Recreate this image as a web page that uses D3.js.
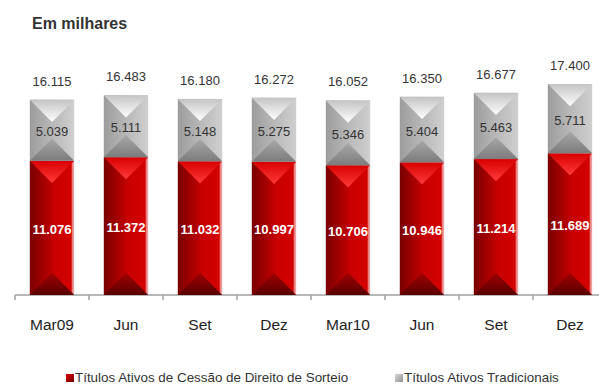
<!DOCTYPE html>
<html><head><meta charset="utf-8">
<script src="https://cdn.jsdelivr.net/npm/d3@7"></script>
<style>
body{margin:0;background:#fff;}
svg{display:block;font-family:"Liberation Sans",Arial,sans-serif;}
</style></head>
<body><svg id="c" width="599" height="385"></svg>
<script>
const categories = ["Mar09","Jun","Set","Dez","Mar10","Jun","Set","Dez"];
const cessao = [11076,11372,11032,10997,10706,10946,11214,11689];
const tradicionais = [5039,5111,5148,5275,5346,5404,5463,5711];
const totals = [16115,16483,16180,16272,16052,16350,16677,17400];
const seriesNames = ["Títulos Ativos de Cessão de Direito de Sorteio","Títulos Ativos Tradicionais"];

const fmt = v => d3.format(",")(v).replace(/,/g,".");
const svg = d3.select("#c");
const x = d3.scaleBand().domain(d3.range(categories.length)).range([15, 607]).paddingInner(0.4).paddingOuter(0.2);
const y = d3.scaleLinear().domain([0, 20000]).range([295, 52.6]);

const defs = svg.append("defs");
function lin(id, x2, y2, stops){
  const g = defs.append("linearGradient").attr("id", id).attr("x1",0).attr("y1",0).attr("x2",x2).attr("y2",y2);
  stops.forEach(s => g.append("stop").attr("offset", s[0]).attr("stop-color", s[1]));
}
lin("redSide",1,0,[[0,"#7a0000"],[0.45,"#b80000"],[0.55,"#c80000"],[0.93,"#d40000"],[0.96,"#e88080"],[1,"#f0b0b0"]]);
lin("redTop",0,1,[[0,"#d80000"],[1,"#ff3a3a"]]);
lin("redBot",0,1,[[0,"#a00000"],[1,"#5a0000"]]);
lin("graySide",1,0,[[0,"#9c9c9c"],[0.5,"#b8b8b8"],[1,"#cfcfcf"]]);
lin("grayTop",0,1,[[0,"#c4c4c4"],[1,"#ffffff"]]);
lin("grayBot",0,1,[[0,"#a8a8a8"],[1,"#7c7c7c"]]);
lin("legRed",1,1,[[0,"#e00000"],[1,"#700000"]]);
lin("legGray",1,1,[[0,"#d8d8d8"],[1,"#909090"]]);

// title
svg.append("text").attr("x",32).attr("y",29).attr("font-size",16).attr("font-weight","bold").attr("fill","#333").text("Em milhares");

// axis
const axisG = svg.append("g").attr("transform","translate(0,295)");
axisG.append("line").attr("x1",15).attr("x2",599).attr("y1",0).attr("y2",0).attr("stroke","#a0a0a0").attr("stroke-width",1.5);
const step = x.step();
d3.range(categories.length+1).forEach(i=>{
  const tx = 15 + i*step;
  axisG.append("line").attr("x1",tx).attr("x2",tx).attr("y1",0).attr("y2",5).attr("stroke","#a0a0a0").attr("stroke-width",1.5);
});
categories.forEach((c,i)=>{
  svg.append("text").attr("x", x(i)+x.bandwidth()/2).attr("y",330).attr("text-anchor","middle").attr("font-size",15.5).attr("fill","#222").text(c);
});

function seg(g, x0, w, yTop, yBot, side, top, bot){
  const h = yBot - yTop;
  const d = Math.min(w/2, h/2);
  g.append("rect").attr("x",x0).attr("y",yTop).attr("width",w).attr("height",h).attr("fill",`url(#${side})`);
  g.append("polygon").attr("points",[[x0,yTop],[x0+w,yTop],[x0+w/2,yTop+d]].map(p=>p.join(",")).join(" ")).attr("fill",`url(#${top})`);
  g.append("polygon").attr("points",[[x0,yBot],[x0+w,yBot],[x0+w/2,yBot-d]].map(p=>p.join(",")).join(" ")).attr("fill",`url(#${bot})`);
}

categories.forEach((c,i)=>{
  const g = svg.append("g");
  const x0 = x(i), w = x.bandwidth();
  const yR = y(cessao[i]);
  const yT = y(cessao[i] + tradicionais[i]);
  seg(g, x0, w, yR, y(0), "redSide","redTop","redBot");
  seg(g, x0, w, yT, yR, "graySide","grayTop","grayBot");
  g.append("text").attr("x",x0+w/2).attr("y",(yR+y(0))/2+6).attr("text-anchor","middle").attr("font-size",13).attr("font-weight","bold").attr("fill","#fff").text(fmt(cessao[i]));
  g.append("text").attr("x",x0+w/2).attr("y",(yT+yR)/2+6).attr("text-anchor","middle").attr("font-size",13).attr("fill","#333").text(fmt(tradicionais[i]));
  g.append("text").attr("x",x0+w/2).attr("y",y(totals[i])-14).attr("text-anchor","middle").attr("font-size",13).attr("fill","#333").text(fmt(totals[i]));
});

// legend
const lg = svg.append("g");
lg.append("rect").attr("x",66).attr("y",374).attr("width",8).attr("height",8).attr("fill","url(#legRed)");
lg.append("text").attr("x",75).attr("y",382).attr("font-size",13.4).attr("fill","#333").text(seriesNames[0]);
lg.append("rect").attr("x",395).attr("y",374).attr("width",8).attr("height",8).attr("fill","url(#legGray)");
lg.append("text").attr("x",404).attr("y",382).attr("font-size",13.4).attr("fill","#333").text(seriesNames[1]);
</script></body></html>
